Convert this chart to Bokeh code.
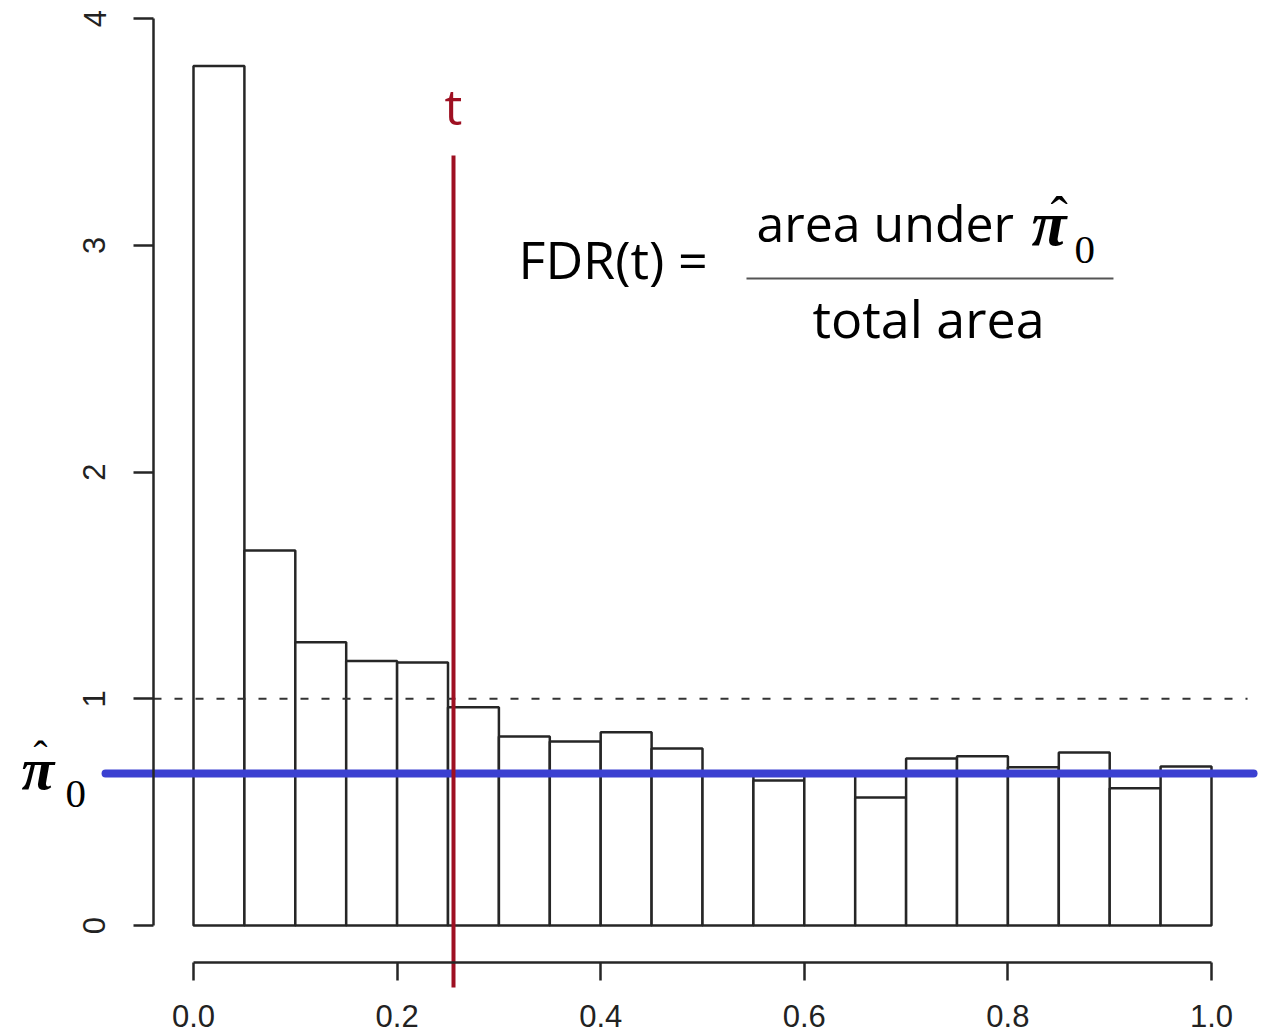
from bokeh.plotting import figure
from bokeh.models import Range1d, LinearAxis, FixedTicker, Label
from bokeh.embed import file_html
from bokeh.resources import INLINE

# ---- data ----
bin_edges = [round(0.05 * i, 2) for i in range(21)]
bin_heights = [3.79, 1.654, 1.249, 1.166, 1.160, 0.962, 0.834, 0.812, 0.852, 0.781,
               0.670, 0.640, 0.665, 0.565, 0.737, 0.746, 0.698, 0.763, 0.605, 0.701]
pi0_hat = 0.670
t_value = 0.2554
ref_level = 1.0
y_ticks = [0, 1, 2, 3, 4]
x_ticks = [0.0, 0.2, 0.4, 0.6, 0.8, 1.0]
x_tick_labels = ["0.0", "0.2", "0.4", "0.6", "0.8", "1.0"]

# ---- figure ----
p = figure(width=1260, height=1035,
           x_range=Range1d(-0.18959, 1.04813), y_range=Range1d(-0.4851, 4.0794),
           min_border=0, output_backend="svg", toolbar_location=None,
           x_axis_type=None, y_axis_type=None)
p.outline_line_color = None
p.background_fill_color = "white"

AX = "#262626"

yaxis = LinearAxis(fixed_location=-0.0393, bounds=(0, 4),
                   ticker=FixedTicker(ticks=y_ticks))
yaxis.axis_line_width = 2.5
yaxis.axis_line_color = AX
yaxis.major_tick_line_width = 2.5
yaxis.major_tick_line_color = AX
yaxis.major_tick_out = 20
yaxis.major_tick_in = 0
yaxis.minor_tick_out = 0
yaxis.minor_tick_in = 0
yaxis.major_label_orientation = "vertical"
yaxis.major_label_standoff = 28
yaxis.major_label_text_font = "Liberation Sans"
yaxis.major_label_text_font_size = "31px"
yaxis.major_label_text_color = "#222222"
p.add_layout(yaxis, "left")

xaxis = LinearAxis(fixed_location=-0.1632, bounds=(0, 1),
                   ticker=FixedTicker(ticks=x_ticks),
                   major_label_overrides={v: s for v, s in zip(x_ticks, x_tick_labels)})
xaxis.axis_line_width = 2.5
xaxis.axis_line_color = AX
xaxis.major_tick_line_width = 2.5
xaxis.major_tick_line_color = AX
xaxis.major_tick_out = 18
xaxis.major_tick_in = 0
xaxis.minor_tick_out = 0
xaxis.minor_tick_in = 0
xaxis.major_label_standoff = 24
xaxis.major_label_text_font = "Liberation Sans"
xaxis.major_label_text_font_size = "31px"
xaxis.major_label_text_color = "#222222"
p.add_layout(xaxis, "below")

# histogram bars
p.quad(left=bin_edges[:-1], right=bin_edges[1:], bottom=0, top=bin_heights,
       fill_color="white", line_color=AX, line_width=2.5)

# dashed reference line at 1
p.segment(x0=[-0.0393], y0=[ref_level], x1=[1.0354], y1=[ref_level],
          line_color="#333333", line_width=2, line_dash="8 13")

# pi0 estimate line
p.segment(x0=[-0.0864], y0=[pi0_hat], x1=[1.0413], y1=[pi0_hat],
          line_color="#3b40d1", line_width=8, line_cap="round")

# threshold t
p.segment(x0=[t_value], y0=[3.396], x1=[t_value], y1=[-0.273],
          line_color="#9e1022", line_width=4)

def lab(x, y, text, font, size, style="normal", align="left", baseline="alphabetic", color="black"):
    p.add_layout(Label(x=x, y=y, text=text, text_font=font, text_font_size=size,
                       text_font_style=style, text_align=align, text_baseline=baseline,
                       text_color=color))

# red t label
lab(t_value, 3.616, "t", "Open Sans", "50px", align="center", color="#9e1022")

# formula
lab(0.3193, 2.942, "FDR(t) =", "Open Sans", "52px")
lab(0.5531, 3.096, "area under", "Open Sans", "50px")
lab(0.7220, 2.683, "total area", "Open Sans", "52px", align="center")
p.segment(x0=[0.5432], y0=[2.853], x1=[0.9037], y1=[2.853],
          line_color="#555555", line_width=2)

# numerator pi-hat_0
lab(0.8232, 3.096, "\u03c0", "Liberation Serif", "64px", style="bold italic")
lab(0.8418, 3.130, "\u02c6", "Liberation Serif", "52px")
lab(0.8654, 2.977, "0", "Liberation Serif", "41px")

# left pi-hat_0 label
lab(-0.1690, 0.688, "\u03c0", "Liberation Serif", "60px", style="bold italic")
lab(-0.1572, 0.746, "\u02c6", "Liberation Serif", "42px")
lab(-0.1257, 0.578, "0", "Liberation Serif", "41px")

open("out.html", "w").write(file_html(p, INLINE))
